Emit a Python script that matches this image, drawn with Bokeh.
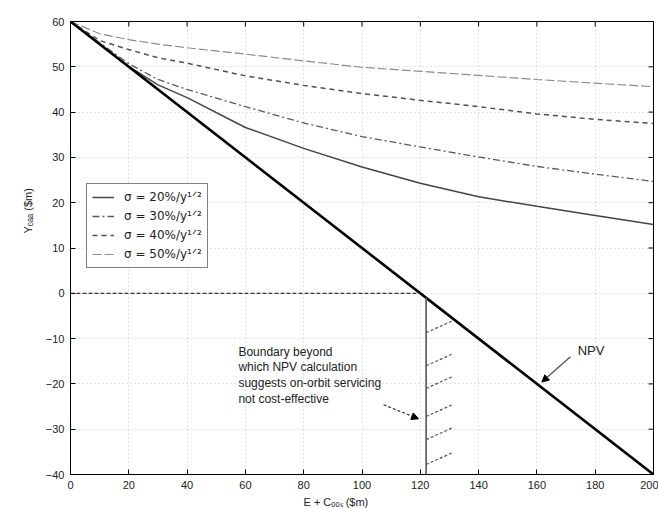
import numpy as np
from bokeh.plotting import figure
from bokeh.models import (Range1d, FixedTicker, Legend, LegendItem, Title,
                          Label, Arrow, NormalHead, ColumnDataSource)
from bokeh.core.properties import value
from bokeh.embed import file_html
from bokeh.resources import INLINE

# ---------------- data ----------------
cost = [0, 10, 20, 30, 40, 60, 80, 100, 120, 140, 160, 180, 200]
y_sigma20 = [60, 55.0, 50.1, 46.0, 43.2, 36.6, 32.0, 27.9, 24.3, 21.3, 19.2, 17.2, 15.2]
y_sigma30 = [60, 55.3, 50.7, 47.2, 45.0, 41.2, 37.6, 34.6, 32.3, 30.1, 28.0, 26.3, 24.7]
y_sigma40 = [60, 55.8, 53.8, 52.0, 50.8, 48.0, 45.9, 44.1, 42.6, 41.2, 39.6, 38.4, 37.5]
y_sigma50 = [60, 57.3, 56.0, 55.0, 54.2, 52.8, 51.3, 49.9, 49.0, 48.1, 47.2, 46.4, 45.6]
npv_x = [0, 200]
npv_y = [60, -40]
series_labels = ["σ = 20%/y¹ᐟ²", "σ = 30%/y¹ᐟ²", "σ = 40%/y¹ᐟ²", "σ = 50%/y¹ᐟ²"]
x_ticks = [0, 20, 40, 60, 80, 100, 120, 140, 160, 180, 200]
y_ticks = [-40, -30, -20, -10, 0, 10, 20, 30, 40, 50, 60]
x_min, x_max = 0, 200
y_min, y_max = -40, 60
x_title = "E + Cₒₒₛ ($m)"
y_title = "Yₒₐₐ ($m)"

# boundary annotation (data coordinates)
zero_line_x = [0, 120]
zero_line_y = [0, 0]
boundary_x = [122, 122]
boundary_y = [-1, -40]
hatch_y0 = [-8.7, -16.0, -21.0, -27.2, -32.3, -37.8]
note_lines = ["Boundary beyond", "which NPV calculation",
              "suggests on-orbit servicing", "not cost-effective"]
note_y = [-12.9, -16.2, -19.7, -23.3]

FONT = "Liberation Sans"
TXT = "#222222"

p = figure(width=658, height=509, x_range=Range1d(x_min, x_max), y_range=Range1d(y_min, y_max),
           output_backend="svg", toolbar_location=None,
           min_border_left=70, min_border_right=5, min_border_top=21, min_border_bottom=35)
p.background_fill_color = "white"
p.border_fill_color = "white"
p.outline_line_color = "black"
p.outline_line_width = 1

# axes
for ax in (p.xaxis[0], p.yaxis[0]):
    ax.major_tick_in = 5
    ax.major_tick_out = 0
    ax.minor_tick_in = 0
    ax.minor_tick_out = 0
    ax.axis_line_color = "black"
    ax.major_tick_line_color = "black"
    ax.major_label_text_font = FONT
    ax.major_label_text_font_size = "11px"
    ax.major_label_text_color = TXT
    ax.major_label_standoff = 6
p.xaxis.ticker = FixedTicker(ticks=x_ticks)
p.yaxis.ticker = FixedTicker(ticks=y_ticks)

# axis titles as side titles (so they can be shifted along the axis like the original)
p.add_layout(Title(text=x_title, align="left", offset=233, text_font=FONT,
                   text_font_size="11px", text_font_style="normal", text_color=TXT,
                   standoff=4), "below")
p.add_layout(Title(text=y_title, align="left", offset=241, text_font=FONT,
                   text_font_size="11px", text_font_style="normal", text_color=TXT,
                   standoff=17), "left")

# inward ticks on the top and right edges of the box
p.ray(x=x_ticks, y=[y_max] * len(x_ticks), length=5, length_units="screen",
      angle=-np.pi / 2, line_color="black", line_width=1)
p.ray(x=[x_max] * len(y_ticks), y=y_ticks, length=5, length_units="screen",
      angle=np.pi, line_color="black", line_width=1)

p.xgrid.ticker = FixedTicker(ticks=x_ticks)
p.ygrid.ticker = FixedTicker(ticks=y_ticks)
p.grid.grid_line_color = "#c4c4c4"
p.grid.grid_line_dash = "1 3"
p.grid.grid_line_width = 1

# curves
r20 = p.line(cost, y_sigma20, line_color="#444444", line_width=1.5)
r30 = p.line(cost, y_sigma30, line_color="#5a5a5a", line_width=1.3, line_dash="7 3 2 3")
r40 = p.line(cost, y_sigma40, line_color="#505050", line_width=1.5, line_dash="5 4")
r50 = p.line(cost, y_sigma50, line_color="#8c8c8c", line_width=1.2, line_dash="9 3")
p.line(npv_x, npv_y, line_color="black", line_width=2.6)

# boundary elements
p.line(zero_line_x, zero_line_y, line_color="#333333", line_width=1.2, line_dash="4 2")
p.line(boundary_x, boundary_y, line_color="#555555", line_width=1.6)
hatch_src = ColumnDataSource(dict(
    x0=[boundary_x[0]] * len(hatch_y0),
    y0=hatch_y0,
    x1=[boundary_x[0] + 9.0] * len(hatch_y0),
    y1=[v + 2.6 for v in hatch_y0],
))
p.segment("x0", "y0", "x1", "y1", source=hatch_src, line_color="#555555",
          line_width=1.2, line_dash="3 2")

note_src = ColumnDataSource(dict(x=[57.6] * len(note_lines), y=note_y, t=note_lines))
p.text("x", "y", text="t", source=note_src, text_font=value(FONT), text_font_size="12px",
       text_color=TXT, text_baseline="middle", text_align="left")

p.add_layout(Arrow(x_start=107.4, y_start=-24.6, x_end=119.4, y_end=-27.7,
                   line_color="#333333", line_width=1.2, line_dash="3 2",
                   end=NormalHead(size=7, fill_color="black", line_color="black")))
p.add_layout(Arrow(x_start=171.5, y_start=-14.0, x_end=161.7, y_end=-19.6,
                   line_color="#555555", line_width=1.3,
                   end=NormalHead(size=7, fill_color="black", line_color="black")))
p.add_layout(Label(x=174.0, y=-12.7, text="NPV", text_font=FONT, text_font_size="13px",
                   text_color=TXT, text_baseline="middle"))

# legend
legend = Legend(items=[LegendItem(label=series_labels[0], renderers=[r20]),
                       LegendItem(label=series_labels[1], renderers=[r30]),
                       LegendItem(label=series_labels[2], renderers=[r40]),
                       LegendItem(label=series_labels[3], renderers=[r50])],
                location=(16, 206), label_text_font="DejaVu Sans", label_text_font_size="12px",
                label_text_color=TXT, glyph_width=22, glyph_height=16, label_height=16,
                label_standoff=10, spacing=3, padding=5, margin=0,
                border_line_color="black", border_line_width=1.5,
                background_fill_color="white", background_fill_alpha=1)
p.add_layout(legend, "center")

open("out.html", "w").write(file_html(p, INLINE))
